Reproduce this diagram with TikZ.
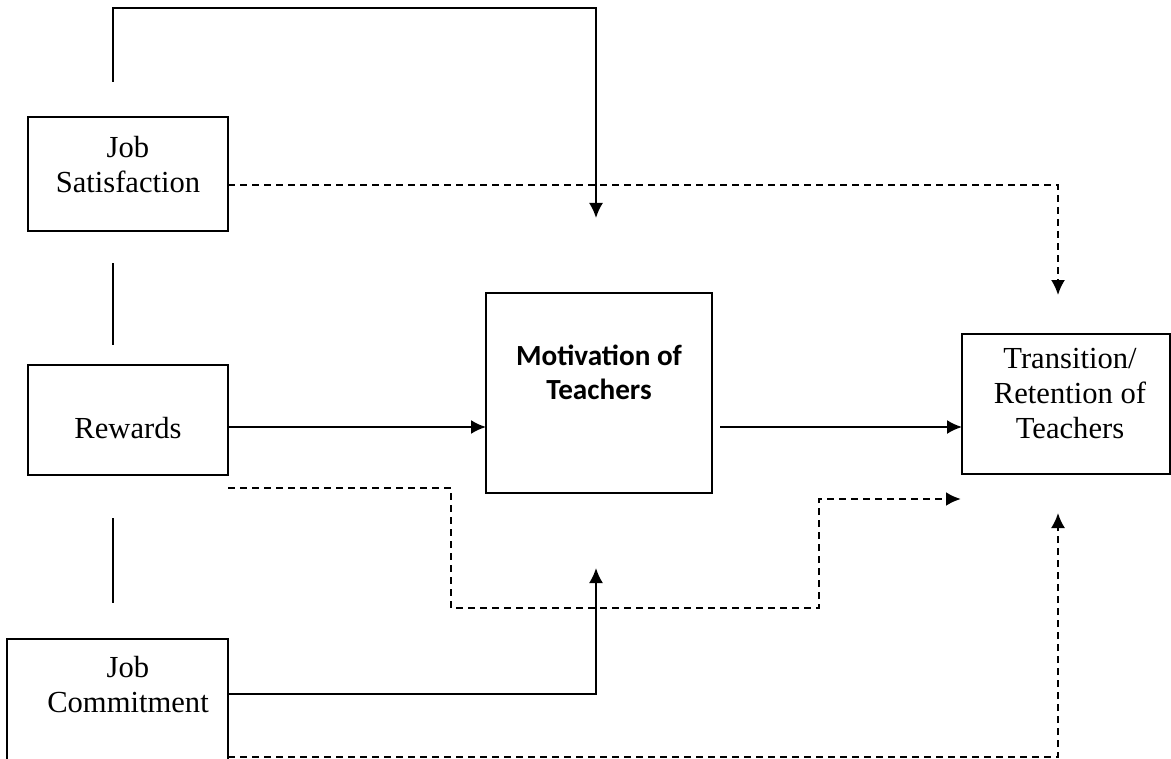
\documentclass[tikz,border=0pt]{standalone}
\usepackage{fontspec}
\setmainfont{Liberation Serif}
\newfontfamily\calib{Carlito}
\usetikzlibrary{arrows.meta}
\tikzset{
  box/.style={draw, line width=1pt, rectangle, inner sep=0pt, outer sep=0pt},
  txt/.style={align=center, inner sep=0pt, font=\fontsize{15.3}{17.5}\selectfont},
  btxt/.style={align=center, inner sep=0pt, font=\calib\bfseries\fontsize{14.6}{17}\selectfont},
  conn/.style={line width=1pt},
  arr/.style={line width=1pt, -{Latex[length=7.5pt,width=7pt]}},
  darr/.style={line width=1pt, dash pattern=on 3.5pt off 2.5pt, -{Latex[length=7.5pt,width=7pt]}},
  dline/.style={line width=0.9pt, dash pattern=on 3.5pt off 2.5pt},
}
\begin{document}
\begin{tikzpicture}[x=0.5pt,y=-0.5pt]
\useasboundingbox (0,0) rectangle (1171,759);
\clip (0,0) rectangle (1171,759);
% boxes
\node[box, minimum width=100pt, minimum height=57pt] (js) at (128,174) {};
\node[box, minimum width=100pt, minimum height=55pt] (rw) at (128,420) {};
\node[box, minimum width=110.5pt, minimum height=70.5pt] (jc) at (117.5,709.5) {};
\node[box, minimum width=113pt, minimum height=100pt] (mot) at (599,393) {};
\node[box, minimum width=104pt, minimum height=70pt] (tr) at (1066,404) {};
% texts
\node[txt] (jst) at (128,165) {Job\\Satisfaction};
\node[txt] (rwt) at (128,428) {Rewards};
\node[txt] (jct) at (128,685) {Job\\Commitment};
\node[btxt] (mott) at (599,372) {Motivation of\\Teachers};
\node[txt] (trt) at (1070,394) {Transition/\\Retention of\\Teachers};
% helper coordinates
\coordinate (t1) at (113,82);
\coordinate (t2) at (596,8);
\coordinate (t3) at (596,218);
\coordinate (s1) at (228,185);
\coordinate (s2) at (1058,295);
\coordinate (ya) at (0,427);
\coordinate (m1) at (720,427);
\coordinate (r1) at (228,488);
\coordinate (r2) at (451,488);
\coordinate (r3) at (451,608);
\coordinate (r4) at (600,608);
\coordinate (r5) at (819,608);
\coordinate (r6) at (819,499);
\coordinate (r7) at (961,499);
\coordinate (c1) at (228,694);
\coordinate (c2) at (596,568);
\coordinate (b1) at (228,757);
\coordinate (b2) at (1058,513);
\coordinate (v1) at (113,263);
\coordinate (v2) at (113,345);
\coordinate (v3) at (113,518);
\coordinate (v4) at (113,603);
% connectors
\draw[arr] (t1) |- (t2) -- (t3);
\draw[darr] (js.east |- s1) -| (s2);
\draw[arr] (rw.east |- ya) -- (mot.west |- ya);
\draw[arr] (m1) -- (tr.west |- ya);
\draw[dline] (r1) -- (r2) -- (r3) -- (r4);
\draw[darr, line width=1.4pt] (r4) -- (r5) -- (r6) -- (r7);
\draw[arr] (jc.east |- c1) -| (c2);
\draw[darr] (jc.east |- b1) -| (b2);
\draw[conn] (v1) -- (v2);
\draw[conn] (v3) -- (v4);
\end{tikzpicture}
\end{document}
